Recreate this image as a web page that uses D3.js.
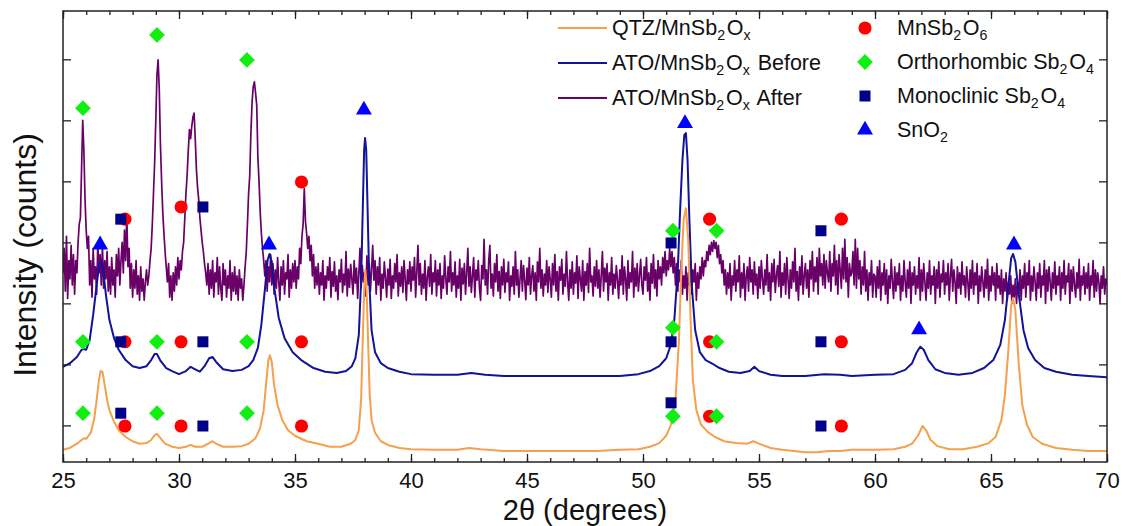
<!DOCTYPE html>
<html><head><meta charset="utf-8">
<script src="https://cdn.jsdelivr.net/npm/d3@7"></script>
<style>
html,body{margin:0;padding:0;background:#fff;}
svg{display:block;}
text{font-family:"Liberation Sans",Arial,sans-serif;fill:#111;}
</style>
</head><body>
<svg id="chart" width="1122" height="526"></svg>
<script>
// ---------------- DATA ----------------
const xMajorTicks = [25,30,35,40,45,50,55,60,65,70];
const xMinorTicks = d3.range(25,71,1);
const yTicks = [1000,2000,3000,4000,5000,6000,7000];

// QTZ/MnSb2Ox  [2θ, counts]
const qtz = [[25.0,600],[25.3,630],[25.6,700],[25.8,760],[25.9,790],[26.0,780],[26.2,880],[26.35,1120],[26.45,1420],[26.55,1740],[26.62,1890],[26.7,1880],[26.8,1660],[26.9,1420],[27.0,1250],[27.2,1060],[27.4,920],[27.7,810],[28.0,740],[28.3,700],[28.6,710],[28.8,760],[28.95,840],[29.05,860],[29.2,790],[29.4,700],[29.7,650],[30.0,630],[30.3,650],[30.5,680],[30.7,650],[31.0,650],[31.3,710],[31.45,740],[31.6,700],[31.9,650],[32.3,650],[32.7,660],[33.0,700],[33.3,790],[33.5,960],[33.65,1250],[33.75,1660],[33.85,2070],[33.92,2150],[34.0,2040],[34.1,1660],[34.25,1330],[34.45,1090],[34.7,920],[35.0,830],[35.5,740],[36.0,700],[36.5,650],[37.0,650],[37.4,700],[37.6,760],[37.75,920],[37.85,1420],[37.92,2400],[37.98,3220],[38.03,3550],[38.08,3300],[38.15,2400],[38.22,1500],[38.3,1090],[38.45,880],[38.7,740],[39.0,680],[39.5,630],[40.0,610],[41.0,600],[42.0,600],[42.5,630],[43.0,610],[44.0,580],[45.0,580],[46.0,580],[47.0,580],[48.0,580],[49.0,600],[49.8,610],[50.3,650],[50.7,710],[51.0,830],[51.2,1010],[51.4,1420],[51.55,2400],[51.65,3550],[51.75,4370],[51.85,4560],[51.95,4040],[52.05,2730],[52.15,1740],[52.3,1250],[52.5,1010],[52.8,890],[53.1,810],[53.5,740],[54.0,710],[54.5,700],[54.75,740],[55.0,700],[55.5,630],[56.0,600],[56.5,580],[57.0,560],[57.5,560],[58.0,580],[58.5,580],[59.0,600],[60.0,600],[60.8,610],[61.3,650],[61.6,700],[61.85,830],[62.05,990],[62.2,920],[62.4,760],[62.7,660],[63.2,610],[63.8,610],[64.4,650],[64.9,710],[65.2,810],[65.45,1090],[65.6,1500],[65.75,2240],[65.87,2970],[65.95,3090],[66.05,2890],[66.2,1990],[66.35,1330],[66.55,1010],[66.8,810],[67.2,700],[67.8,630],[68.5,600],[69.2,580],[70.0,580]];

// ATO/MnSb2Ox Before  [2θ, counts]
const atoBefore = [[25.0,1960],[25.3,2020],[25.6,2120],[25.8,2240],[25.9,2250],[26.0,2240],[26.15,2400],[26.3,2810],[26.45,3300],[26.55,3600],[26.63,3680],[26.72,3580],[26.85,3140],[27.0,2730],[27.2,2430],[27.4,2240],[27.7,2070],[28.0,1970],[28.3,1940],[28.6,1970],[28.8,2070],[28.95,2170],[29.05,2170],[29.2,2060],[29.45,1940],[29.7,1890],[30.0,1840],[30.3,1890],[30.5,1960],[30.7,1920],[30.9,1880],[31.1,1970],[31.3,2100],[31.45,2120],[31.6,2040],[31.9,1920],[32.3,1890],[32.7,1910],[33.0,1970],[33.2,2070],[33.4,2270],[33.55,2650],[33.7,3220],[33.82,3710],[33.9,3810],[34.0,3680],[34.12,3220],[34.3,2760],[34.55,2430],[34.9,2200],[35.3,2060],[35.8,1940],[36.3,1880],[36.8,1860],[37.2,1890],[37.45,1970],[37.6,2100],[37.75,2480],[37.85,3380],[37.93,4690],[37.98,5510],[38.02,5710],[38.07,5510],[38.13,4530],[38.2,3380],[38.3,2560],[38.45,2200],[38.7,2020],[39.0,1940],[39.5,1880],[40.0,1840],[41.0,1830],[42.0,1830],[42.6,1860],[43.2,1830],[44.0,1810],[45.0,1810],[46.0,1810],[47.0,1810],[48.0,1810],[49.0,1810],[49.8,1840],[50.3,1890],[50.7,1970],[51.0,2100],[51.2,2320],[51.35,2730],[51.5,3550],[51.6,4530],[51.7,5350],[51.78,5760],[51.85,5790],[51.92,5350],[52.0,4370],[52.1,3300],[52.25,2560],[52.45,2200],[52.7,2070],[53.0,2010],[53.3,1940],[53.7,1880],[54.2,1860],[54.6,1890],[54.8,1960],[55.0,1890],[55.5,1830],[56.0,1810],[57.0,1810],[57.8,1840],[58.5,1830],[59.0,1810],[60.0,1830],[60.8,1840],[61.3,1910],[61.6,2020],[61.8,2200],[61.95,2290],[62.1,2240],[62.3,2070],[62.6,1920],[63.0,1860],[63.6,1830],[64.2,1860],[64.7,1940],[65.1,2070],[65.4,2320],[65.6,2730],[65.75,3300],[65.87,3740],[65.95,3810],[66.05,3680],[66.2,3140],[66.4,2560],[66.6,2270],[66.9,2070],[67.3,1940],[67.8,1880],[68.5,1830],[69.2,1810],[70.0,1790]];

// ATO/MnSb2Ox After: one row of counts per degree (25..69), evenly spaced inside the degree
const atoAfterStart = 25;
const atoAfterRows = [
[3500,3900,3200,4100,3080,3700,3400,3950,3300,3800,3150,3700,3500,4000,4300,4400,5200,6000,5500,4700],
[4200,3900,4100,3300,3700,3100,3900,3400,3600,3150,4000,3500,3800,3300,3950,3250,3700,3400,3850,3200],
[3600,3150,3750,3300,3550,3100,3800,3450,3900,3300,3700,4000,3500,4200,3700,4450,3600,3900,3250,3650],
[3100,3550,3250,3700,3150,3450,3050,3600,3200,3400,3050,3350,3550,3300,3450,3700,3900,4300,4800,5300],
[6000,6750,6990,6500,5600,5000,4500,4150,3850,3600,3350,3650,3100,3450,3050,3500,3200,3600,3300,3750],
[3400,3700,3550,3850,4000,4400,4800,5100,5500,5850,5700,5900,6050,6120,5700,5200,4900,4700,4400,4200],
[4000,3850,3650,3500,3300,3650,3150,3550,3250,3700,3100,3500,3350,3750,3150,3600,3250,3050,3650,3300],
[3550,3100,3450,3250,3700,3050,3500,3200,3600,3150,3450,3050,3550,3250,3400,3050,3300,3600,3850,4300],
[4800,5100,5800,6300,6550,6630,6450,6250,5400,5000,4500,4150,3900,3700,3450,3700,3200,3600,3350,3800],
[3300,3650,3150,3550,3250,3750,3350,3050,3600,3300,3700,3150,3500,3400,3800,3100,3550,3250,3650,3350],
[3700,3250,3600,3400,3900,3650,4100,4300,4880,4350,4150,3900,4100,3700,3950,3450,3800,3250,3600,3300],
[3650,3150,3500,3300,3700,3050,3450,3250,3600,3380,3750,3100,3520,3280,3680,3200,3450,3060,3550,3350],
[3720,3180,3480,3300,3850,3120,3560,3260,3640,3400,3150,3700,3330,3580,3080,3470,3900,3250,3620,3350],
[3500,3120,3780,3300,3650,3200,3550,3950,3380,3700,3150,3600,3300,3750,3050,3480,3250,3680,3420,3100],
[3560,3300,3720,3080,3450,3250,3650,3350,3800,3120,3500,3280,3600,3180,3700,3400,3050,3550,3320,3680],
[3200,3600,3380,3750,3100,3520,3950,3300,3650,3150,3480,3250,3700,3050,3420,3600,3280,3800,3150,3500],
[3350,3700,3120,3550,3300,3650,3080,3450,3250,3780,3400,3150,3600,3350,3850,3200,3500,3300,3680,3100],
[3450,3250,3720,3050,3580,3320,3650,3150,3500,3900,3280,3600,3180,3450,3750,3100,3550,3380,3700,3250],
[3050,3620,3400,4050,3300,3550,3150,3700,3950,3250,3480,3120,3650,3350,3800,3200,3520,3080,3600,3300],
[3720,3180,3500,3350,3680,3050,3450,3280,3600,3150,3850,3300,3550,3100,3400,3700,3200,3620,3380,3060],
[3580,3300,3750,3150,3450,3620,3200,3500,3050,3680,3350,3900,3250,3550,3120,3480,3300,3700,3180,3600],
[3400,3100,3650,3300,3800,3200,3520,3050,3600,3380,3720,3150,3480,3280,3850,3350,3050,3550,3250,3680],
[3150,3500,3330,3780,3080,3600,3400,3200,3700,3050,3520,3300,3650,3180,3900,3350,3450,3120,3600,3280],
[3700,3250,3550,3100,3450,3850,3200,3580,3350,3650,3050,3500,3300,3750,3150,3480,3250,3620,3380,3080],
[3550,3300,3780,3150,3600,3400,3050,3700,3250,3500,3350,3850,3100,3580,3280,3650,3200,3450,3720,3300],
[3150,3600,3380,3750,3200,3500,3050,3650,3330,3800,3250,3550,3120,3700,3400,3600,3300,3750,3500,3850],
[3450,3700,3550,3900,3600,3850,3500,3750,3300,3650,3200,3550,3350,3700,3150,3450,3250,3600,3050,3500],
[3300,3700,3150,3550,3350,3650,3050,3500,3250,3600,3400,3750,3450,3700,3600,3850,3700,3950,3800,4000],
[3850,4030,3900,4000,3750,3950,3650,3800,3500,3700,3300,3550,3150,3500,3250,3650,3050,3450,3300,3700],
[3200,3550,3350,3780,3100,3500,3250,3650,3050,3450,3600,3200,3750,3350,3550,3150,3680,3300,3480,3080],
[3600,3250,3700,3400,3150,3550,3300,3800,3200,3500,3050,3650,3350,3720,3180,3450,3620,3280,3850,3100],
[3500,3300,3650,3150,3750,3400,3080,3550,3250,3680,3350,3900,3200,3520,3050,3600,3300,3780,3150,3450],
[3650,3250,3550,3100,3700,3400,3850,3200,3600,3350,3750,3150,3900,3450,3650,3300,3800,3250,3700,3500],
[3350,3850,3200,3650,3450,3950,3300,3700,3150,3800,3550,3250,3900,3400,4050,3350,3750,3100,3650,3450],
[3500,3850,3300,4050,3250,3900,3400,3700,3150,3600,3300,3850,3200,3550,3050,3500,3300,3700,3100,3480],
[3450,3100,3600,3250,3700,3050,3500,3300,3650,3150,3550,3000,3450,3250,3720,3350,3080,3600,3200,3500],
[3300,3650,3050,3450,3200,3700,3350,3100,3550,3250,3680,3000,3500,3300,3600,3150,3450,3250,3750,3050],
[3550,3200,3650,3350,3050,3500,3250,3700,3150,3450,3300,3600,3000,3550,3250,3680,3100,3480,3350,3700],
[3150,3500,3300,3650,3050,3450,3720,3200,3550,3350,3000,3600,3250,3500,3150,3680,3300,3450,3100,3600],
[3350,3050,3550,3250,3700,3150,3500,3300,3650,3000,3450,3200,3600,3350,3100,3550,3250,3720,3050,3450],
[3200,3600,3300,3500,3050,3650,3250,3450,3150,3550,3000,3400,3200,3500,3050,3350,3150,3450,3000,3300],
[3100,3400,3000,3350,3150,3550,3050,3450,3250,3650,3100,3500,3300,3700,3050,3450,3200,3600,3350,3050],
[3500,3250,3650,3100,3450,3300,3700,3000,3550,3200,3600,3350,3050,3500,3250,3680,3150,3450,3300,3600],
[3050,3500,3250,3700,3150,3450,3350,3650,3000,3550,3200,3600,3300,3100,3500,3250,3720,3050,3450,3300],
[3600,3150,3500,3250,3650,3050,3450,3300,3700,3100,3550,3200,3500,3350,3000,3450,3250,3600,3150,3400]
];
const atoAfterLast = [70, 3300];

// phase markers [2θ, counts]
const mnsb2o6 = [[27.67,4380],[30.09,4580],[35.28,4990],[52.87,4380],[58.55,4380],[27.67,2370],[30.09,2370],[35.28,2370],[52.87,2370],[58.55,2370],[27.67,990],[30.09,990],[35.28,990],[52.87,1150],[58.55,990]];
const orthoSb2o4 = [[25.86,6200],[29.05,7400],[32.93,6990],[51.29,4190],[53.17,4190],[25.86,2370],[29.05,2370],[32.93,2370],[51.29,2600],[53.17,2370],[25.86,1200],[29.05,1200],[32.93,1200],[51.29,1150],[53.17,1150]];
const monoSb2o4 = [[27.49,4380],[31.03,4580],[51.21,3990],[57.67,4190],[27.49,2370],[31.03,2370],[51.21,2370],[57.67,2370],[27.49,1200],[31.03,990],[51.21,1370],[57.67,990]];
const sno2 = [[26.6,3960],[33.88,3960],[37.97,6170],[51.81,5950],[61.9,2570],[65.99,3960]];

const seriesNames = ["QTZ/MnSb_2O_x", "ATO/MnSb_2O_x Before", "ATO/MnSb_2O_x After"];
const phaseNames = ["MnSb_2O_6", "Orthorhombic Sb_2O_4", "Monoclinic Sb_2O_4", "SnO_2"];
const xTitle = "2θ (degrees)";
const yTitle = "Intensity (counts)";

// ---------------- STYLE / LAYOUT ----------------
const colors = {qtz:"#F4A04C", before:"#12129A", after:"#680068",
  circle:"#FF0000", diamond:"#11EE11", square:"#000088", triangle:"#0000FF"};
const L = 63, R = 1107, T = 11, B = 462;

const svg = d3.select("#chart");
const x = d3.scaleLinear().domain([25,70]).range([L,R]);
const y = d3.scaleLinear().domain([400,7792]).range([B,T]);

// build After series
const atoAfter = [];
atoAfterRows.forEach((row,i)=>{
  row.forEach((v,j)=>atoAfter.push([atoAfterStart + i + j/row.length, v]));
});
atoAfter.push(atoAfterLast);

svg.append("defs").append("clipPath").attr("id","clip")
  .append("rect").attr("x",L).attr("y",T).attr("width",R-L).attr("height",B-T);

const line = d3.line().x(d=>x(d[0])).y(d=>y(d[1]));
const plot = svg.append("g").attr("clip-path","url(#clip)");
plot.append("path").datum(atoAfter).attr("d",line).attr("fill","none")
  .attr("stroke",colors.after).attr("stroke-width",1.7).attr("stroke-linejoin","round");
plot.append("path").datum(atoBefore).attr("d",line).attr("fill","none")
  .attr("stroke",colors.before).attr("stroke-width",2).attr("stroke-linejoin","round");
plot.append("path").datum(qtz).attr("d",line).attr("fill","none")
  .attr("stroke",colors.qtz).attr("stroke-width",2).attr("stroke-linejoin","round");

// markers
const symCircle = d3.symbol().type(d3.symbolCircle).size(135);
const symDiamond = d3.symbol().type(d3.symbolSquare).size(125);
const symSquare = d3.symbol().type(d3.symbolSquare).size(121);
const symTri = d3.symbol().type(d3.symbolTriangle).size(110);
const mk = svg.append("g");
mk.selectAll(".c").data(mnsb2o6).join("path").attr("d",symCircle)
  .attr("transform",d=>`translate(${x(d[0])},${y(d[1])})`).attr("fill",colors.circle);
mk.selectAll(".d").data(orthoSb2o4).join("path").attr("d",symDiamond)
  .attr("transform",d=>`translate(${x(d[0])},${y(d[1])}) rotate(45)`).attr("fill",colors.diamond);
mk.selectAll(".s").data(monoSb2o4).join("path").attr("d",symSquare)
  .attr("transform",d=>`translate(${x(d[0])},${y(d[1])})`).attr("fill",colors.square);
mk.selectAll(".t").data(sno2).join("path").attr("d",symTri)
  .attr("transform",d=>`translate(${x(d[0])},${y(d[1])})`).attr("fill",colors.triangle);

// axes
function styleAxis(g){ g.select(".domain").remove(); g.selectAll("line").attr("stroke","#222").attr("stroke-width",1.3); }
svg.append("g").attr("transform",`translate(0,${B})`)
  .call(d3.axisBottom(x).tickValues(xMinorTicks).tickSize(-4).tickFormat(""))
  .call(styleAxis);
svg.append("g").attr("transform",`translate(0,${B})`)
  .call(d3.axisBottom(x).tickValues(xMajorTicks).tickSize(-8).tickPadding(10).tickFormat(d3.format("d")))
  .call(styleAxis)
  .call(g=>g.selectAll("text").attr("font-size",22).attr("fill","#111").attr("font-family",'"Liberation Sans",Arial,sans-serif'));
svg.append("g").attr("transform",`translate(0,${T})`)
  .call(d3.axisTop(x).tickValues(xMinorTicks).tickSize(-4).tickFormat("")).call(styleAxis);
svg.append("g").attr("transform",`translate(0,${T})`)
  .call(d3.axisTop(x).tickValues(xMajorTicks).tickSize(-8).tickFormat("")).call(styleAxis);
svg.append("g").attr("transform",`translate(${L},0)`)
  .call(d3.axisLeft(y).tickValues(yTicks).tickSize(-8).tickFormat("")).call(styleAxis);
svg.append("g").attr("transform",`translate(${R},0)`)
  .call(d3.axisRight(y).tickValues(yTicks).tickSize(-8).tickFormat("")).call(styleAxis);
svg.append("rect").attr("x",L).attr("y",T).attr("width",R-L).attr("height",B-T)
  .attr("fill","none").attr("stroke","#222").attr("stroke-width",1.5);

// titles
svg.append("text").attr("x",(L+R)/2).attr("y",520).attr("text-anchor","middle")
  .attr("font-size",29).text(xTitle);
svg.append("text").attr("transform","translate(36,255) rotate(-90)").attr("text-anchor","middle")
  .attr("font-size",32).text(yTitle);

// legend
function richText(sel, str, size){
  const parts = str.split(/_(.)/);
  parts.forEach((p,i)=>{
    if(p==="") return;
    if(i%2===1){
      sel.append("tspan").attr("font-size",size*0.66).attr("dy",5).text(p);
      sel.append("tspan").attr("font-size",size).attr("dy",-5).text("\u200A");
    } else sel.append("tspan").attr("font-size",size).text(p);
  });
}
const legColors = [colors.qtz, colors.before, colors.after];
seriesNames.forEach((n,i)=>{
  const yy = 28 + i*35;
  svg.append("line").attr("x1",558).attr("x2",607).attr("y1",yy).attr("y2",yy)
    .attr("stroke",legColors[i]).attr("stroke-width",2);
  richText(svg.append("text").attr("x",612).attr("y",yy+7), n, 21.5);
});
const legSyms = [[symCircle,colors.circle,0],[symDiamond,colors.diamond,45],[symSquare,colors.square,0],[symTri,colors.triangle,0]];
phaseNames.forEach((n,i)=>{
  const yy = 28 + i*34;
  svg.append("path").attr("d",legSyms[i][0]).attr("fill",legSyms[i][1])
    .attr("transform",`translate(865,${yy}) rotate(${legSyms[i][2]})`);
  richText(svg.append("text").attr("x",897).attr("y",yy+7), n, 21.5);
});
</script>
</body></html>
